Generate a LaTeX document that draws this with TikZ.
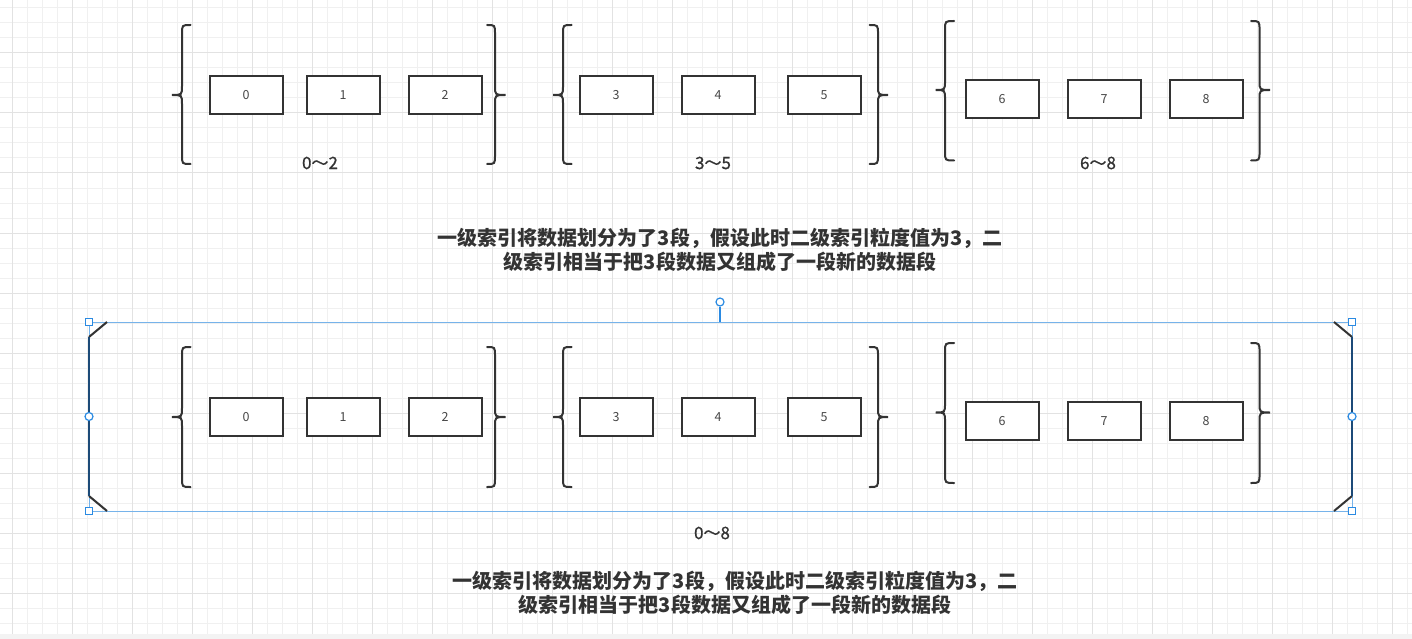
\documentclass[tikz,border=0pt]{standalone}
\usepackage{fontspec}
\newfontfamily\cjk{Noto Sans CJK SC}
\newfontfamily\cjkm{Noto Sans CJK SC}[FakeBold=0.8]
\definecolor{ink}{HTML}{333333}
\definecolor{gridminor}{HTML}{F0F0F0}
\definecolor{gridmajor}{HTML}{E2E2E2}
\definecolor{selblue}{HTML}{76B3EA}
\definecolor{hdlblue}{HTML}{2A8AE2}
\definecolor{navy}{HTML}{1C4A78}
\tikzset{
  cell/.style={draw=ink, line width=2pt, fill=white, minimum width=73pt, minimum height=38pt, inner sep=0pt, font=\cjk\fontsize{12.5}{12.5}\selectfont, text=ink!90},
  brc/.style={draw=ink, line width=2pt, line cap=round},
  rng/.style={font=\cjkm\fontsize{17}{17}\selectfont, text=ink, inner sep=0pt},
  note/.style={font=\cjk\bfseries\fontsize{20}{24}\selectfont, text=ink, align=center, inner sep=0pt},
  sel/.style={draw=selblue, line width=1pt},
  hsq/.style={draw=hdlblue, fill=white, line width=1pt, minimum size=7pt, inner sep=0pt, rectangle},
  hci/.style={draw=hdlblue, fill=white, line width=1.2pt, minimum size=8pt, inner sep=0pt, circle},
  brk/.style={draw=ink, line width=2pt},
  brkv/.style={draw=navy, line width=2pt},
}
\newcommand\BracePath[6]{% tip x, line x, end x, top, mid, bottom
  \draw[brc] (#3,#4) .. controls (#2,#4) .. (#2,#4+9) -- (#2,#5-9)
    .. controls (#2,#5) .. (#1,#5) .. controls (#2,#5) .. (#2,#5+9)
    -- (#2,#6-9) .. controls (#2,#6) .. (#3,#6);}
\begin{document}
\begin{tikzpicture}[x=1pt,y=-1pt]
\useasboundingbox (0,0) rectangle (1412,639);
\fill[white] (0,0) rectangle (1412,639);
% grid
\foreach \gx in {12,27,...,1412} \draw[gridminor, line width=1pt] (\gx,0) -- (\gx,634);
\foreach \gy in {8,23,...,634} \draw[gridminor, line width=1pt] (0,\gy) -- (1412,\gy);
\foreach \gx in {12,72,...,1412} \draw[gridmajor, line width=1pt] (\gx,0) -- (\gx,634);
\foreach \gy in {53,113,...,634} \draw[gridmajor, line width=1pt] (0,\gy) -- (1412,\gy);
\fill[gridminor!80] (0,634) rectangle (1412,639);

% ===== top row =====
\node[cell] (t0) at (246,95) {0};
\node[cell] (t1) at (343,95) {1};
\node[cell] (t2) at (445,95) {2};
\node[cell] (t3) at (616,95) {3};
\node[cell] (t4) at (718,95) {4};
\node[cell] (t5) at (824,95) {5};
\node[cell] (t6) at (1002,99) {6};
\node[cell] (t7) at (1104,99) {7};
\node[cell] (t8) at (1206,99) {8};
\BracePath{172}{182}{190.5}{25}{95}{164}
\BracePath{505.5}{495}{487}{25}{95}{164}
\BracePath{553}{563}{571.5}{25}{95}{164}
\BracePath{888}{878}{869.5}{25}{95}{164}
\BracePath{935.5}{945}{954}{21}{90}{160.5}
\BracePath{1270}{1259.5}{1251}{21}{90}{160.5}
\node[rng] (r1) at (320,163) {0～2};
\node[rng] (r2) at (713,163) {3～5};
\node[rng] (r3) at (1098,163) {6～8};
\node[note] (n1) at (720,249.5) {一级索引将数据划分为了3段，假设此时二级索引粒度值为3，二\\级索引相当于把3段数据又组成了一段新的数据段};

% ===== bottom row =====
\draw[sel] (89,322) rectangle (1352,511);
\node[cell] (b0) at (246,417) {0};
\node[cell] (b1) at (343,417) {1};
\node[cell] (b2) at (445,417) {2};
\node[cell] (b3) at (616,417) {3};
\node[cell] (b4) at (718,417) {4};
\node[cell] (b5) at (824,417) {5};
\node[cell] (b6) at (1002,421) {6};
\node[cell] (b7) at (1104,421) {7};
\node[cell] (b8) at (1206,421) {8};
\BracePath{172}{182}{190.5}{347}{417}{487}
\BracePath{505.5}{495}{487}{347}{417}{487}
\BracePath{553}{563}{571.5}{347}{417}{487}
\BracePath{888}{878}{869.5}{347}{417}{487}
\BracePath{935.5}{945}{954}{343}{412.5}{483}
\BracePath{1270}{1259.5}{1251}{343}{412.5}{483}
% big bracket
\draw[brk] (107,322) -- (89,337);
\draw[brk] (89,496) -- (107,511);
\draw[brkv] (89,337) -- (89,496);
\draw[brk] (1334,322) -- (1352,337);
\draw[brk] (1352,496) -- (1334,511);
\draw[brkv] (1352,337) -- (1352,496);
% selection handles
\node[hsq] (hTL) at (89,322) {};
\node[hsq] (hTR) at (1352,322) {};
\node[hsq] (hBL) at (89,511) {};
\node[hsq] (hBR) at (1352,511) {};
\node[hci] (hL) at (89,416.5) {};
\node[hci] (hR) at (1352,416.5) {};
\node[hci] (hRot) at (720,302) {};
\coordinate (topmid) at (720,322);
\draw[hdlblue, line width=1.2pt] (hRot) -- (topmid);
\node[rng] (r4) at (712,533) {0～8};
\node[note] (n2) at (735,592.5) {一级索引将数据划分为了3段，假设此时二级索引粒度值为3，二\\级索引相当于把3段数据又组成了一段新的数据段};
\end{tikzpicture}
\end{document}
